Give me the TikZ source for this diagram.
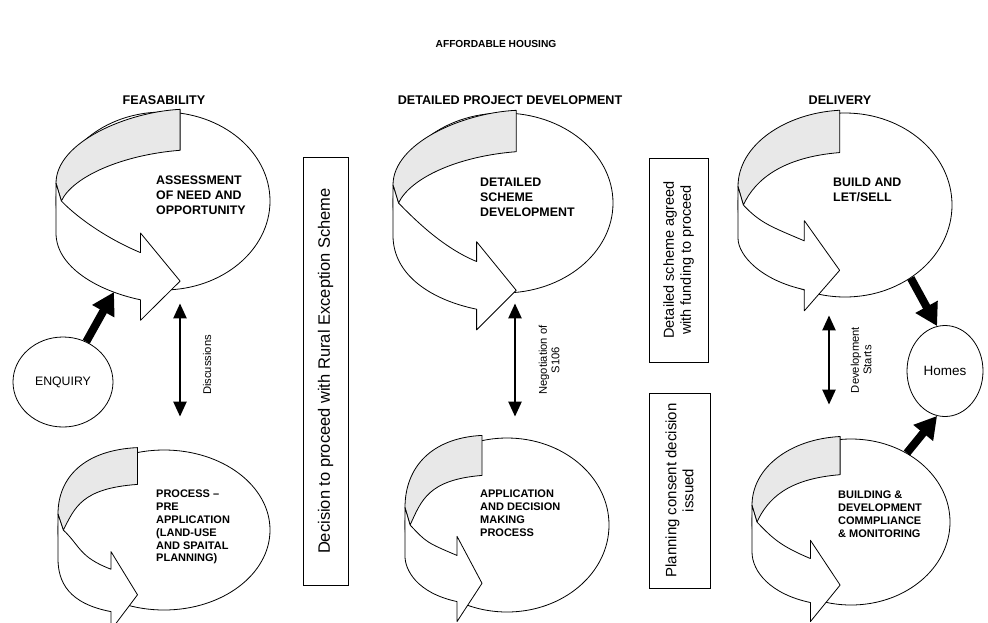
\documentclass[tikz,border=0pt]{standalone}
\usepackage{fontspec}
\setmainfont{Liberation Sans}
\usetikzlibrary{shapes.geometric,arrows.meta}

% ring band with arrow head: #1 centre, #2 rx, #3 ry, #4 tail x, #5 arrow shift, #6 head length
\newcommand{\ringband}[6]{%
  \begin{scope}[shift={#1}, xscale=#2, yscale=#3]
    \draw[ringline, fill=black!9]
      (#4,-1.03) .. controls ({#4-0.5},-1.0) and (-1,-0.66) .. (-1,-0.2)
      -- (-0.95,0.0)
      .. controls (-0.84,-0.28) and ({#4-0.53},-0.52) .. (#4,-0.57) -- cycle;
    \draw[ringline, fill=white]
      (-1,-0.2) -- (-1,0.36)
      .. controls (-1,{0.74+(#5)}) and ({#4-#6-0.4},{1.01+(#5)}) .. ({#4-#6},{1.11+(#5)})
      -- ({#4-#6},{1.34+(#5)}) -- (#4,{0.9+(#5)}) -- ({#4-#6},{0.36+(#5)})
      -- ({#4-#6},{0.58+(#5)})
      .. controls ({#4-#6-0.3},{0.43+(#5)}) and (-0.79,0.2) .. (-0.95,0.0) -- cycle;
  \end{scope}}

\begin{document}
\begin{tikzpicture}[
    x=1pt, y=-1pt,
    ringline/.style={draw=black, line width=0.8pt, line join=round},
    ringshape/.style={ellipse, draw=black, line width=0.8pt, fill=white, inner sep=0pt},
    toptext/.style={anchor=west, align=left, inner sep=0pt, font=\bfseries\fontsize{12.4}{15}\selectfont},
    bottext/.style={anchor=west, align=left, inner sep=0pt, font=\bfseries\fontsize{11}{12.9}\selectfont},
    heading/.style={inner sep=0pt, font=\bfseries\fontsize{12.6}{14}\selectfont},
    stagebox/.style={draw=black, line width=0.8pt, rotate=90, align=center, inner sep=0pt},
    sidelabel/.style={rotate=90, align=center, inner sep=0pt, font=\fontsize{11.2}{12.5}\selectfont},
    endnode/.style={ellipse, draw=black, line width=0.8pt, fill=white, inner sep=0pt},
    dblarrow/.style={line width=2.4pt, {Triangle[length=15pt,width=13pt]}-{Triangle[length=15pt,width=13pt]}},
    bigarrow/.style={line width=8pt, -{Triangle[length=22pt,width=24pt]}}
]
    \clip (0,0) rectangle (988,622);
    \fill[white] (0,0) rectangle (988,622);

    \node[heading, font=\bfseries\fontsize{10.2}{12}\selectfont] (title) at (496,44) {AFFORDABLE HOUSING};
    \node[heading] (feas) at (164,100) {FEASABILITY};
    \node[heading] (detdev) at (510,100) {DETAILED PROJECT DEVELOPMENT};
    \node[heading] (deliv) at (840,100) {DELIVERY};

    % feasability
    \node[ringshape, minimum width=214pt, minimum height=178pt] (assess) at (163,201) {};
    \ringband{(163,201)}{107}{89}{0.16}{0}{0.37}
    \node[toptext] (assess-txt) at (156,195) {ASSESSMENT\\OF NEED AND\\OPPORTUNITY};

    \node[ringshape, minimum width=212pt, minimum height=160pt] (preapp) at (164,530) {};
    \ringband{(164,530)}{106}{80}{-0.25}{-0.09}{0.25}
    \node[bottext] (preapp-txt) at (156,527) {PROCESS --\\PRE\\APPLICATION\\(LAND-USE\\AND SPAITAL\\PLANNING)};

    \node[endnode, minimum width=100pt, minimum height=90pt, font=\fontsize{12.3}{14}\selectfont] (enquiry) at (63,382) {ENQUIRY};

    % detailed project development
    \node[ringshape, minimum width=220pt, minimum height=180pt] (scheme) at (503,203) {};
    \ringband{(503,203)}{110}{90}{0.12}{0.07}{0.36}
    \node[toptext] (scheme-txt) at (480,197) {DETAILED\\SCHEME\\DEVELOPMENT};

    \node[ringshape, minimum width=204pt, minimum height=174pt] (appdec) at (507,525) {};
    \ringband{(507,525)}{102}{87}{-0.245}{-0.23}{0.245}
    \node[bottext] (appdec-txt) at (480,513.5) {APPLICATION\\AND DECISION\\MAKING\\PROCESS};

    % delivery
    \node[ringshape, minimum width=214pt, minimum height=184pt] (letsell) at (845,205) {};
    \ringband{(845,205)}{107}{92}{-0.05}{-0.19}{0.33}
    \node[toptext] (letsell-txt) at (833,190) {BUILD AND\\LET/SELL};

    \node[ringshape, minimum width=198pt, minimum height=166pt] (compliance) at (851,522) {};
    \ringband{(851,522)}{99}{83}{-0.11}{-0.14}{0.30}
    \node[bottext] (compliance-txt) at (838,514) {BUILDING \&\\DEVELOPMENT\\COMMPLIANCE\\\& MONITORING};

    \node[endnode, minimum width=76pt, minimum height=91pt, font=\fontsize{13.5}{15}\selectfont] (homes) at (945,371) {Homes};

    % decision boxes
    \node[stagebox, minimum width=428pt, minimum height=45pt, font=\fontsize{16.5}{19}\selectfont] (decide) at (325.5,371) {Decision to proceed with Rural Exception Scheme};
    \node[stagebox, minimum width=204pt, minimum height=59pt, font=\fontsize{14.5}{17}\selectfont] (agreed) at (678.5,260) {Detailed scheme agreed\\with funding to proceed};
    \node[stagebox, minimum width=195pt, minimum height=61pt, font=\fontsize{15}{17}\selectfont] (consent) at (679.5,490.5) {Planning consent decision\\issued};

    % side labels
    \node[sidelabel] (discuss) at (207,365) {Discussions};
    \node[sidelabel] (negot) at (549,360) {Negotiation of\\S106};
    \node[sidelabel] (devstart) at (861,360) {Development\\Starts};

    \draw[dblarrow] ([xshift=17pt,yshift=-13pt]assess.south) -- ([xshift=16pt,yshift=33pt]preapp.north);
    \draw[dblarrow] ([xshift=12pt,yshift=-10pt]scheme.south) -- ([xshift=8pt,yshift=21pt]appdec.north);
    \draw[dblarrow] ([xshift=-16pt,yshift=-18pt]letsell.south) -- ([xshift=-22pt,yshift=34pt]compliance.north);

    \coordinate (assess-in) at (114,292);
    \draw[bigarrow] (enquiry.60) -- (assess-in);
    \draw[bigarrow] (letsell.-48) -- (homes.100);
    \draw[bigarrow] (compliance.51) -- (homes.-100);

\end{tikzpicture}
\end{document}
